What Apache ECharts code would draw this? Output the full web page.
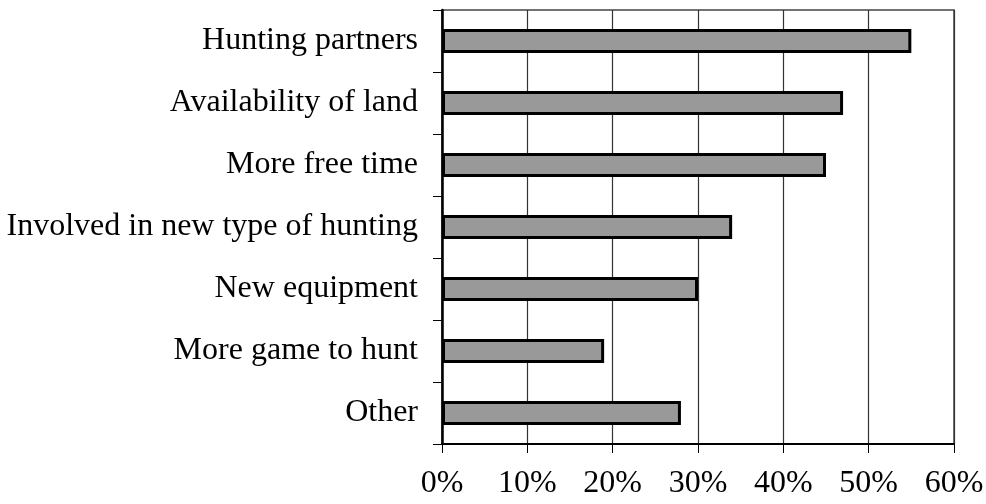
<!DOCTYPE html>
<html>
<head>
<meta charset="utf-8">
<script src="https://cdn.jsdelivr.net/npm/echarts@6/dist/echarts.min.js"></script>
<style>html,body{margin:0;padding:0;background:#fff}#c{width:986px;height:504px}</style>
</head>
<body>
<div id="c"></div>
<script>
const categories = ["Hunting partners", "Availability of land", "More free time", "Involved in new type of hunting", "New equipment", "More game to hunt", "Other"];
const values = [55, 47, 45, 34, 30, 19, 28];
const xTicks = { min: 0, max: 60, interval: 10 };

const chart = echarts.init(document.getElementById('c'));
chart.setOption({
  backgroundColor: '#fff',
  animation: false,
  grid: {
    left: 442, right: 32, top: 10, bottom: 60,
    containLabel: false, outerBoundsMode: 'none',
    show: true, borderColor: '#444', borderWidth: 1.5, backgroundColor: 'transparent'
  },
  xAxis: {
    type: 'value', min: xTicks.min, max: xTicks.max, interval: xTicks.interval,
    axisLine: { show: true, lineStyle: { color: '#000', width: 2 } },
    axisTick: { show: true, length: 9, lineStyle: { color: '#000', width: 1 } },
    splitLine: { show: true, lineStyle: { color: '#333', width: 1.2 } },
    axisLabel: { formatter: '{value}%', color: '#000', fontFamily: 'Liberation Serif', fontSize: 32, margin: 24 }
  },
  yAxis: {
    type: 'category', data: categories, inverse: true,
    axisLine: { show: true, lineStyle: { color: '#000', width: 2.5 } },
    axisTick: { show: true, length: 9, alignWithLabel: false, lineStyle: { color: '#000', width: 1 } },
    axisLabel: { color: '#000', fontFamily: 'Liberation Serif', fontSize: 32, margin: 24 }
  },
  series: [{
    type: 'bar', data: values, barWidth: 24,
    itemStyle: { color: '#999999', borderColor: '#000', borderWidth: 3 }
  }]
});
</script>
</body>
</html>
